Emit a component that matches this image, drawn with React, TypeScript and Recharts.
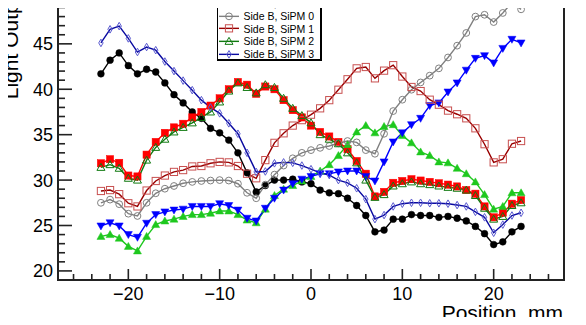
import { LineChart, Line, XAxis, YAxis, ReferenceArea } from 'recharts'

// positions along the bar, mm
const positions = [
    -23, -22, -21, -20, -19, -18, -17, -16, -15, -14, -13, -12, -11, -10, -9, -8,
    -7, -6, -5, -4, -3, -2, -1, 0, 1, 2, 3, 4, 5, 6, 7, 8,
    9, 10, 11, 12, 13, 14, 15, 16, 17, 18, 19, 20, 21, 22, 23,
]

const sideA0 = [
    41.7, 43.2, 44.0, 42.6, 41.7, 42.2, 41.9, 40.7, 39.4, 38.5, 37.5, 36.8, 35.7, 35.2, 34.4, 33.0,
    30.8, 28.7, 29.4, 30.0, 30.0, 30.1, 29.8, 29.6, 28.9, 28.6, 28.5, 28.0, 27.2, 26.1, 24.3, 24.5,
    25.7, 25.7, 26.2, 26.1, 26.1, 25.9, 26.0, 25.8, 25.5, 24.9, 24.1, 22.9, 23.2, 24.3, 24.9,
]
const sideA1 = [
    31.85, 32.3, 31.9, 30.5, 30.4, 32.8, 34.2, 35.2, 35.8, 36.2, 36.9, 37.5, 38.2, 39.0, 40.0, 40.8,
    40.5, 39.5, 40.3, 40.0, 38.8, 37.7, 36.9, 36.0, 35.3, 34.8, 34.2, 33.4, 32.1, 30.7, 28.2, 28.7,
    29.7, 29.9, 30.1, 29.95, 29.8, 29.65, 29.5, 29.3, 28.9, 28.5, 27.1, 25.9, 26.4, 27.4, 27.8,
]
const sideA2 = [
    23.8, 24.0, 23.6, 22.7, 22.2, 23.8, 25.1, 25.5, 25.7, 26.0, 26.2, 26.2, 26.35, 26.6, 26.6, 26.2,
    25.6, 25.3, 26.8, 28.3, 29.0, 29.4, 29.9, 30.4, 31.0, 31.7, 32.7, 33.9, 35.3, 36.0, 35.2, 35.9,
    36.1, 34.9, 34.1, 33.1, 32.7, 32.0, 31.9, 31.3, 30.7, 29.8, 28.4, 26.8, 27.1, 28.6, 28.6,
]
const sideA3 = [
    24.95, 25.3, 24.95, 24.0, 23.7, 25.25, 26.2, 26.5, 26.7, 26.8, 27.1, 27.1, 27.1, 27.4, 27.2, 26.7,
    25.8, 25.5, 26.9, 28.0, 28.9, 29.6, 30.1, 30.4, 30.7, 30.7, 30.9, 31.0, 31.0, 30.4, 29.9, 32.0,
    34.2, 35.2, 36.1, 36.8, 38.2, 38.5, 39.7, 40.7, 42.1, 43.4, 43.7, 42.9, 44.5, 45.5, 45.1,
]
const sideB0 = [
    27.5, 27.85, 27.35, 26.3, 26.05, 27.5, 28.55, 29.05, 29.35, 29.65, 29.8, 29.9, 29.95, 30.0, 29.95, 29.6,
    28.6, 28.0, 29.5, 30.6, 31.6, 32.4, 33.0, 33.3, 33.55, 33.75, 34.05, 34.3, 34.15, 33.3, 32.9, 35.1,
    37.6, 38.85, 39.95, 40.75, 41.5, 42.3, 43.5, 44.8, 46.2, 48.0, 48.2, 47.4, 48.4, 49.55, 48.8,
]
const sideB1 = [
    28.8, 28.9, 28.45, 27.45, 27.1, 28.85, 29.9, 30.5, 30.9, 31.1, 31.5, 31.55, 31.85, 32.0, 31.95, 31.55,
    30.7, 30.2, 32.2, 34.1, 35.15, 36.0, 36.6, 37.2, 37.9, 38.8, 39.95, 41.1, 42.3, 42.45, 41.2, 42.05,
    42.65, 41.4, 40.25, 39.8, 38.85, 38.3, 37.65, 37.25, 36.8, 35.7, 33.95, 31.95, 32.3, 34.0, 34.3,
]
const sideB2 = [
    31.4, 31.7, 31.3, 30.2, 30.0, 32.2, 33.6, 34.5, 35.3, 35.8, 36.3, 36.9, 37.5, 38.6, 39.8, 40.7,
    40.2, 39.6, 40.5, 40.2, 39.0, 37.9, 37.1, 36.3, 35.0, 34.5, 34.0, 33.0, 31.9, 30.0, 28.1, 28.4,
    29.35, 29.6, 29.8, 29.6, 29.5, 29.35, 29.2, 29.1, 28.9, 28.3, 26.9, 25.7, 26.0, 27.2, 27.5,
]
const sideB3 = [
    45.1, 46.6, 46.95, 45.6, 44.1, 44.65, 44.3, 43.05, 42.0, 40.95, 39.9, 38.8, 38.0, 37.35, 36.25, 35.1,
    33.0, 30.9, 30.95, 31.85, 31.95, 31.9, 31.6, 31.2, 30.8, 30.55, 30.0, 29.7, 29.1, 27.9, 25.7, 26.15,
    27.1, 27.4, 27.5, 27.5, 27.45, 27.45, 27.4, 27.25, 27.1, 26.5, 25.9, 24.2, 25.1, 26.1, 26.4,
]

const xTicks = [-26, -24, -22, -20, -18, -16, -14, -12, -10, -8, -6, -4, -2, 0, 2, 4, 6, 8, 10, 12, 14, 16, 18, 20, 22, 24, 26]
const yTicks = [19, 20, 21, 22, 23, 24, 25, 26, 27, 28, 29, 30, 31, 32, 33, 34, 35, 36, 37, 38, 39, 40, 41, 42, 43, 44, 45, 46, 47, 48, 49, 50, 51]

type Shape = 'circle' | 'square' | 'triUp' | 'triDown' | 'diamond'

interface Series {
    key: string
    name: string
    values: number[]
    line: string
    mark: string
    shape: Shape
    filled: boolean
}

const series: Series[] = [
    { key: 'a0', name: 'Side A, SiPM 0', values: sideA0, line: '#000000', mark: '#000000', shape: 'circle', filled: true },
    { key: 'a1', name: 'Side A, SiPM 1', values: sideA1, line: '#ff0000', mark: '#ff0000', shape: 'square', filled: true },
    { key: 'a2', name: 'Side A, SiPM 2', values: sideA2, line: '#1ec81e', mark: '#1ec81e', shape: 'triUp', filled: true },
    { key: 'a3', name: 'Side A, SiPM 3', values: sideA3, line: '#0000ff', mark: '#0000ff', shape: 'triDown', filled: true },
    { key: 'b0', name: 'Side B, SiPM 0', values: sideB0, line: '#808080', mark: '#808080', shape: 'circle', filled: false },
    { key: 'b1', name: 'Side B, SiPM 1', values: sideB1, line: '#990000', mark: '#c85050', shape: 'square', filled: false },
    { key: 'b2', name: 'Side B, SiPM 2', values: sideB2, line: '#117a11', mark: '#117a11', shape: 'triUp', filled: false },
    { key: 'b3', name: 'Side B, SiPM 3', values: sideB3, line: '#0a0aa0', mark: '#5a5ad0', shape: 'diamond', filled: false },
]

const data = positions.map((x, i) => {
    const row: Record<string, number> = { x }
    series.forEach((s) => {
        row[s.key] = s.values[i]
    })
    return row
})

const FONT = '"Liberation Sans", Arial, Helvetica, sans-serif'
const TOP = 50 // part of the canvas hidden above the window

function Marker({ cx, cy, shape, color, filled }: { cx: number; cy: number; shape: Shape; color: string; filled: boolean }) {
    const fill = filled ? color : 'none'
    const sw = filled ? 0.5 : 1
    if (shape === 'circle') return <circle cx={cx} cy={cy} r={3.4} fill={fill} stroke={color} strokeWidth={sw} />
    if (shape === 'square') return <rect x={cx - 3.6} y={cy - 3.6} width={7.2} height={7.2} fill={fill} stroke={color} strokeWidth={sw} />
    if (shape === 'triUp')
        return <polygon points={`${cx},${cy - 4} ${cx + 4},${cy + 3} ${cx - 4},${cy + 3}`} fill={fill} stroke={color} strokeWidth={sw} />
    if (shape === 'triDown')
        return <polygon points={`${cx - 4},${cy - 3} ${cx + 4},${cy - 3} ${cx},${cy + 4}`} fill={fill} stroke={color} strokeWidth={sw} />
    return <polygon points={`${cx},${cy - 3.8} ${cx + 2.2},${cy} ${cx},${cy + 3.8} ${cx - 2.2},${cy}`} fill={fill} stroke={color} strokeWidth={sw} />
}

function YTick(props: any) {
    const { x, y, payload } = props
    const v = payload.value
    const major = v % 5 === 0
    return (
        <g>
            <line x1={x} x2={x + (major ? 14 : 7)} y1={y} y2={y} stroke="#222" strokeWidth={1.6} />
            {major && (
                <text x={x - 5} y={y} dy="0.36em" textAnchor="end" fontSize={18} fontFamily={FONT} fill="#000">
                    {v}
                </text>
            )}
        </g>
    )
}

function XTick(props: any) {
    const { x, y, payload } = props
    const v = payload.value
    const major = v % 10 === 0
    return (
        <g>
            <line x1={x} x2={x} y1={y} y2={y - (major ? 11 : 6)} stroke="#222" strokeWidth={1.6} />
            {major && (
                <text x={x} y={y + 20} textAnchor="middle" fontSize={18} fontFamily={FONT} fill="#000">
                    {v < 0 ? '\u2212' + Math.abs(v) : v}
                </text>
            )}
        </g>
    )
}

function LegendBox() {
    const rowH = 12.7
    const pad = 1.4
    const h = series.length * rowH + pad * 2
    return (
        <div
            style={{
                position: 'absolute',
                left: 217,
                top: 61 - h,
                width: 105,
                height: h,
                boxSizing: 'border-box',
                background: '#fff',
                border: '1px solid #000',
                borderRightWidth: 2,
                borderBottomWidth: 2,
                paddingTop: pad,
                fontFamily: FONT,
                fontSize: 10.5,
            }}
        >
            {series.map((s) => (
                <div key={s.key} style={{ height: rowH, display: 'flex', alignItems: 'center', whiteSpace: 'nowrap' }}>
                    <svg width={24} height={rowH} style={{ display: 'block', flex: 'none' }}>
                        <line x1={1} x2={21} y1={rowH / 2} y2={rowH / 2} stroke={s.line} strokeWidth={1.4} />
                        <Marker cx={11} cy={rowH / 2} shape={s.shape} color={s.mark} filled={s.filled} />
                    </svg>
                    <span style={{ marginLeft: 1.5, color: '#000' }}>{s.name}</span>
                </div>
            ))}
        </div>
    )
}

export default function App() {
    return (
        <div style={{ position: 'relative', width: 586, height: 325, margin: -8, overflow: 'hidden', background: '#fff' }}>
            <div style={{ position: 'absolute', left: 0, top: -TOP }}>
                <LineChart width={586} height={325 + TOP} data={data} margin={{ top: TOP - 15.2, right: 22, left: 0, bottom: 0 }}>
                    <XAxis
                        dataKey="x"
                        type="number"
                        domain={[-27.7, 27.7]}
                        allowDataOverflow
                        ticks={xTicks}
                        interval={0}
                        height={45}
                        axisLine={false}
                        tickLine={false}
                        tickSize={0}
                        tickMargin={0}
                        tick={<XTick />}
                    />
                    <YAxis
                        type="number"
                        domain={[19, 51.5]}
                        allowDataOverflow
                        ticks={yTicks}
                        interval={0}
                        width={58}
                        axisLine={false}
                        tickLine={false}
                        tickSize={0}
                        tickMargin={0}
                        tick={<YTick />}
                    />
                    <ReferenceArea x1={-27.7} x2={27.7} y1={19} y2={51.5} fill="none" stroke="#222" strokeWidth={2} ifOverflow="visible" />
                    {series.map((s) => (
                        <Line
                            key={s.key}
                            dataKey={s.key}
                            name={s.name}
                            type="linear"
                            stroke={s.line}
                            strokeWidth={1.4}
                            isAnimationActive={false}
                            dot={(p: any) => (
                                <Marker key={`${s.key}-${p.index}`} cx={p.cx} cy={p.cy} shape={s.shape} color={s.mark} filled={s.filled} />
                            )}
                            activeDot={false}
                        />
                    ))}
                </LineChart>
            </div>
            <svg width={586} height={325} style={{ position: 'absolute', left: 0, top: 0, overflow: 'visible', pointerEvents: 'none' }}>
                <text transform="translate(17.5, -15.2) rotate(-90)" textAnchor="end" fontSize={21} fontFamily={FONT} fill="#000">
                    Light Output
                </text>
                <text x={563} y={320} textAnchor="end" fontSize={21} fontFamily={FONT} fill="#000">
                    Position, mm
                </text>
            </svg>
            <LegendBox />
        </div>
    )
}
